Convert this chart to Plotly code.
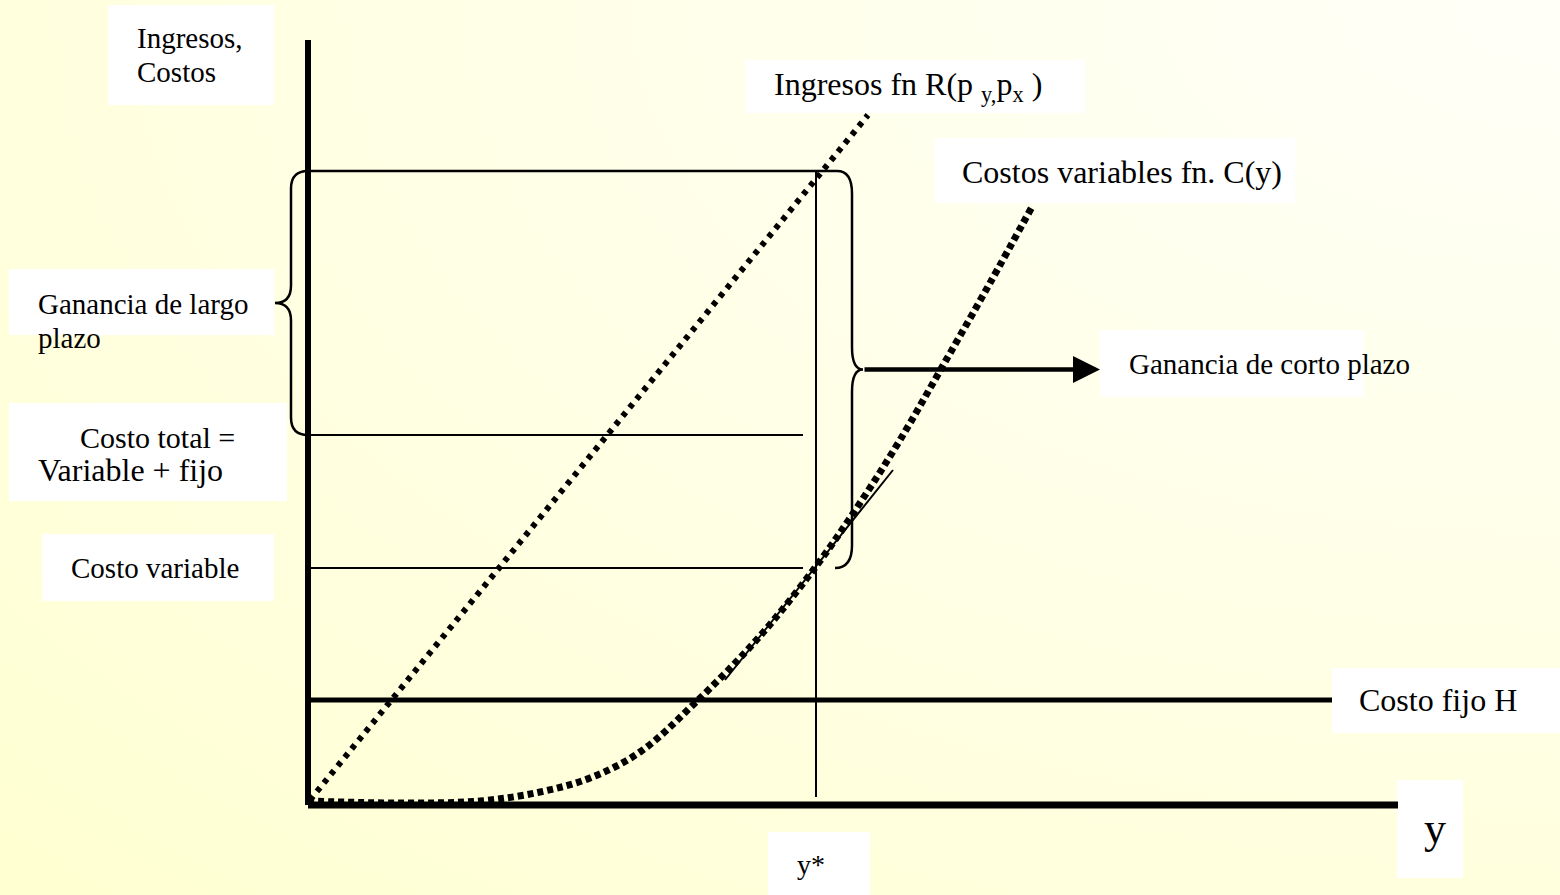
import base64
import plotly.graph_objects as go

# ---------------- data (chart units: quantity on x, money on y) ----------------
Y_STAR = 10.16            # optimal output y*
REVENUE_AT_YSTAR = 12.68  # revenue level at y*
TOTAL_COST = 7.4          # total cost = variable + fixed
VARIABLE_COST = 4.74      # variable cost at y*
FIXED_COST_H = 2.1        # fixed cost H

revenue_q = [0.04, 11.2]
revenue_v = [0.1, 13.8]

cost_q = [0.0, 1.84, 3.44, 4.64, 5.64, 6.64, 7.74, 9.04, 10.18, 11.04, 11.84, 12.74, 13.64, 14.5]
cost_v = [0.08, 0.04, 0.08, 0.26, 0.54, 1.06, 2.04, 3.38, 4.8, 6.04, 7.3, 8.86, 10.44, 12.0]

tangent_q = [8.34, 11.7]
tangent_v = [2.5, 6.7]

AXIS_Q_MAX = 21.8
AXIS_V_MAX = 15.3
FIXED_LINE_END = 20.48
COST_LINES_END = 9.9
YSTAR_LINE_BOTTOM = 0.16
ARROW_END = 15.84

labels_axis = ["Ingresos,", "Costos"]
label_revenue = "Ingresos fn R(p <sub>y,</sub>p<sub>x</sub> )"
label_cost = "Costos variables fn. C(y)"
label_long = ["Ganancia de largo", "plazo"]
label_total = ["Costo total =", "Variable + fijo"]
label_var = "Costo variable"
label_short = "Ganancia de corto plazo"
label_fixed = "Costo fijo H"
label_y = "y"
label_ystar = "y*"

# ---------------- layout helpers ----------------
W, H = 1560, 895
X_RANGE = [-6.16, 25.04]
Y_RANGE = [-1.8, 16.1]
FONT = "Liberation Serif, Times New Roman, serif"
FS = 29


def P(xp, yp):
    return xp / W, 1 - yp / H


def brace_path(x_start, x_col, x_tip, x_end, y_top, y_bot, r):
    y_mid = (y_top + y_bot) / 2
    return (f"M{x_start},{y_top} Q{x_col},{y_top} {x_col},{y_top - r} "
            f"L{x_col},{y_mid + r} Q{x_col},{y_mid} {x_tip},{y_mid} "
            f"M{x_tip},{y_mid} Q{x_col},{y_mid} {x_col},{y_mid - r} "
            f"L{x_col},{y_bot + r} Q{x_col},{y_bot} {x_end},{y_bot}")


fig = go.Figure()

# background gradient
svg = (f'<svg xmlns="http://www.w3.org/2000/svg" width="{W}" height="{H}" viewBox="0 0 {W} {H}" preserveAspectRatio="none">'
       '<defs><radialGradient id="g" cx="1" cy="0" r="1.45" gradientUnits="objectBoundingBox">'
       '<stop offset="0" stop-color="#FFFFF8"/><stop offset="0.55" stop-color="#FFFFE4"/>'
       '<stop offset="1" stop-color="#FFFFD0"/></radialGradient></defs>'
       f'<rect x="0" y="0" width="{W}" height="{H}" fill="url(#g)"/></svg>')
src = "data:image/svg+xml;base64," + base64.b64encode(svg.encode()).decode()

shapes = []
# white label boxes (pixel boxes)
boxes = [(108, 5, 274, 105), (745, 60, 1085, 113), (935, 138, 1295, 203),
         (9, 269, 274, 335), (9, 403, 287, 501), (42, 534, 274, 601),
         (1100, 330, 1364, 397), (1332, 668, 1560, 733), (1397, 780, 1463, 878),
         (768, 832, 870, 895)]
for x0, y0, x1, y1 in boxes:
    a = P(x0, y0)
    b = P(x1, y1)
    shapes.append(dict(type="rect", xref="paper", yref="paper", x0=a[0], y0=a[1], x1=b[0], y1=b[1],
                       fillcolor="white", line=dict(width=0), layer="below"))


def hline(y, x0, x1, w):
    shapes.append(dict(type="line", xref="x", yref="y", x0=x0, x1=x1, y0=y, y1=y,
                       line=dict(color="black", width=w)))


def vline(x, y0, y1, w):
    shapes.append(dict(type="line", xref="x", yref="y", x0=x, x1=x, y0=y0, y1=y1,
                       line=dict(color="black", width=w)))


vline(0, 0, AXIS_V_MAX, 6)
hline(0, 0, AXIS_Q_MAX, 7)
hline(FIXED_COST_H, 0, FIXED_LINE_END, 5)
hline(TOTAL_COST, 0, COST_LINES_END, 2)
hline(VARIABLE_COST, 0, COST_LINES_END, 2)
vline(Y_STAR, YSTAR_LINE_BOTTOM, REVENUE_AT_YSTAR, 2)

# top line + right brace (short-run profit: revenue - variable cost)
right = brace_path(Y_STAR + 0.42, Y_STAR + 0.72, Y_STAR + 0.94, Y_STAR + 0.38,
                   REVENUE_AT_YSTAR, VARIABLE_COST, 0.45)
shapes.append(dict(type="path", xref="x", yref="y",
                   path=f"M0,{REVENUE_AT_YSTAR} L{Y_STAR + 0.42},{REVENUE_AT_YSTAR} " + right,
                   line=dict(color="black", width=2.5)))
# left brace (long-run profit: revenue - total cost)
left = brace_path(0, -0.34, -0.66, 0, REVENUE_AT_YSTAR, TOTAL_COST, 0.35)
shapes.append(dict(type="path", xref="x", yref="y", path=left,
                   line=dict(color="black", width=2.5)))

# curves
fig.add_trace(go.Scatter(x=tangent_q, y=tangent_v, mode="lines",
                         line=dict(color="black", width=2), hoverinfo="skip"))
fig.add_trace(go.Scatter(x=cost_q, y=cost_v, mode="lines",
                         line=dict(color="black", width=7, dash="6px,4px", shape="spline", smoothing=1.0),
                         hoverinfo="skip"))
fig.add_trace(go.Scatter(x=revenue_q, y=revenue_v, mode="lines",
                         line=dict(color="black", width=6, dash="5px,6px"), hoverinfo="skip"))

annotations = []
mid_short = (REVENUE_AT_YSTAR + VARIABLE_COST) / 2
annotations.append(dict(x=ARROW_END, y=mid_short, ax=Y_STAR + 0.94, ay=mid_short,
                        xref="x", yref="y", axref="x", ayref="y", text="",
                        showarrow=True, arrowhead=2, arrowsize=1.2, arrowwidth=4.5, arrowcolor="black"))


def txt(s, xp, yp, size=FS, anchor="left"):
    x, y = P(xp, yp)
    annotations.append(dict(text=s, x=x, y=y, xref="paper", yref="paper", xanchor=anchor,
                            yanchor="middle", showarrow=False,
                            font=dict(family=FONT, size=size, color="black")))


txt(labels_axis[0], 135, 38)
txt(labels_axis[1], 135, 72)
txt(label_revenue, 772, 86, size=32)
txt(label_cost, 960, 172, size=32)
txt(label_long[0], 36, 304)
txt(label_long[1], 36, 338)
txt(label_total[0], 78, 437, size=30)
txt(label_total[1], 36, 470, size=32)
txt(label_var, 69, 568)
txt(label_short, 1127, 364)
txt(label_fixed, 1357, 700, size=32)
txt(label_y, 1435, 828, size=44, anchor="center")
txt(label_ystar, 811, 864, size=28, anchor="center")

fig.update_layout(
    width=W, height=H, margin=dict(l=0, r=0, t=0, b=0),
    paper_bgcolor="#FFFFE6", plot_bgcolor="rgba(0,0,0,0)",
    showlegend=False,
    xaxis=dict(range=X_RANGE, visible=False, fixedrange=True),
    yaxis=dict(range=Y_RANGE, visible=False, fixedrange=True),
    shapes=shapes, annotations=annotations,
    images=[dict(source=src, xref="paper", yref="paper", x=0, y=1, sizex=1, sizey=1,
                 sizing="stretch", layer="below", xanchor="left", yanchor="top")],
)

fig.write_html("out.html", config=dict(displayModeBar=False),
               post_script="document.body.style.margin='0';document.body.style.overflow='hidden';")
